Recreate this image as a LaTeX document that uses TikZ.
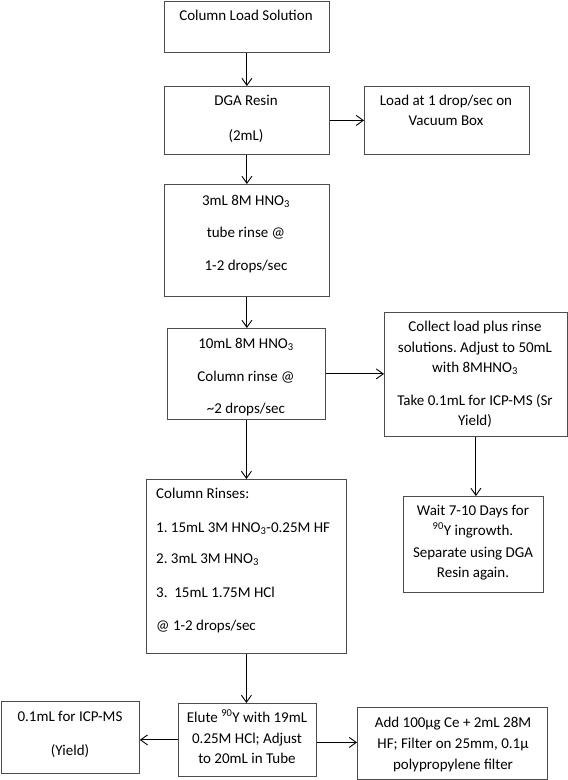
\documentclass[tikz,border=0pt]{standalone}
\usepackage{fontspec}
\setmainfont{Carlito}
\frenchspacing
\usetikzlibrary{arrows.meta,calc}
\begin{document}
\begin{tikzpicture}[x=1pt,y=-1pt,
  box/.style={draw=black!70, line width=0.8pt, inner sep=0pt, anchor=north west},
  txt/.style={inner sep=0pt, anchor=base, font=\fontsize{15}{17}\selectfont},
  ltxt/.style={txt, anchor=base west},
  arr/.style={draw=black, line width=0.9pt, -{Straight Barb[length=7pt,width=10pt]}}]
\useasboundingbox (0,0) rectangle (568,780);
% boxes
\node[box, minimum width=165pt, minimum height=51.5pt] (b1) at (164,0.5) {};
\node[box, minimum width=165pt, minimum height=68pt] (b2) at (164,86) {};
\node[box, minimum width=165pt, minimum height=68pt] (b3) at (364,86) {};
\node[box, minimum width=165pt, minimum height=112pt] (b4) at (164,184) {};
\node[box, minimum width=158pt, minimum height=91pt] (b5) at (167,328) {};
\node[box, minimum width=183pt, minimum height=124pt] (b6) at (384,312) {};
\node[box, minimum width=200pt, minimum height=174pt] (b7) at (146,479) {};
\node[box, minimum width=140pt, minimum height=96pt] (b8) at (403,496) {};
\node[box, minimum width=138pt, minimum height=72pt] (b9) at (1,701) {};
\node[box, minimum width=138pt, minimum height=73pt] (b10) at (178,703) {};
\node[box, minimum width=190pt, minimum height=72pt] (b11) at (357,707) {};
% texts
\node[txt] (t1) at (246,20) {Column Load Solution};
\node[txt] (t2a) at (246,105) {DGA Resin};
\node[txt] (t2b) at (246,140) {(2mL)};
\node[txt] (t3a) at (446,105) {Load at 1 drop/sec on};
\node[txt] (t3b) at (446,125) {Vacuum Box};
\node[txt] (t4a) at (246,205) {3mL 8M HNO\textsubscript{3}};
\node[txt] (t4b) at (246,237) {tube rinse @};
\node[txt] (t4c) at (246,270) {1-2 drops/sec};
\node[txt] (t5a) at (246,348) {10mL 8M HNO\textsubscript{3}};
\node[txt] (t5b) at (246,381) {Column rinse @};
\node[txt] (t5c) at (246,413) {\textasciitilde 2 drops/sec};
\node[txt] (t6a) at (475,331) {Collect load plus rinse};
\node[txt] (t6b) at (475,352) {solutions. Adjust to 50mL};
\node[txt] (t6c) at (475,372) {with 8MHNO\textsubscript{3}};
\node[txt] (t6d) at (475,405) {Take 0.1mL for ICP-MS (Sr};
\node[txt] (t6e) at (475,425) {Yield)};
\node[ltxt] (t7a) at (156,498) {Column Rinses:};
\node[ltxt] (t7b) at (156,532) {1. 15mL 3M HNO\textsubscript{3}-0.25M HF};
\node[ltxt] (t7c) at (156,563) {2. 3mL 3M HNO\textsubscript{3}};
\node[ltxt] (t7d) at (156,597) {3.\ \ 15mL 1.75M HCl};
\node[ltxt] (t7e) at (156,630) {@ 1-2 drops/sec};
\node[txt] (t8a) at (473,515) {Wait 7-10 Days for};
\node[txt] (t8b) at (473,535) {\textsuperscript{90}Y ingrowth.};
\node[txt] (t8c) at (473,557) {Separate using DGA};
\node[txt] (t8d) at (473,577) {Resin again.};
\node[txt] (t9a) at (70,721) {0.1mL for ICP-MS};
\node[txt] (t9b) at (70,755) {(Yield)};
\node[txt] (t10a) at (247,722) {Elute \textsuperscript{90}Y with 19mL};
\node[txt] (t10b) at (247,743) {0.25M HCl; Adjust};
\node[txt] (t10c) at (247,763) {to 20mL in Tube};
\node[txt] (t11a) at (453,727) {Add 100µg Ce + 2mL 28M};
\node[txt] (t11b) at (453,748) {HF; Filter on 25mm, 0.1µ};
\node[txt] (t11c) at (453,769) {polypropylene filter};
% connectors
\draw[arr] (b1.south) -- (b1.south |- b2.north);
\draw[arr] (b2.east) -- (b2.east -| b3.west);
\draw[arr] (b2.south) -- (b2.south |- b4.north);
\draw[arr] (b4.south) -- (b4.south |- b5.north);
\draw[arr] (b5.east) -- (b5.east -| b6.west);
\draw[arr] (b5.south) -- (b5.south |- b7.north);
\draw[arr] (b6.south) -- (b6.south |- b8.north);
\draw[arr] (b7.south) -- (b7.south |- b10.north);
\draw[arr] (b10.west) -- (b10.west -| b9.east);
\draw[arr] ($(b10.east)+(0,2.5)$) coordinate (c1) -- (c1 -| b11.west);
\end{tikzpicture}
\end{document}
